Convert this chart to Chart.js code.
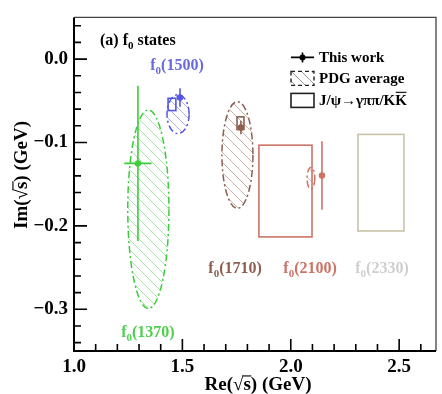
<!DOCTYPE html>
<html lang="en">
<head>
<meta charset="utf-8">
<title>f0 states: pole positions</title>
<script src="https://cdn.jsdelivr.net/npm/chart.js"></script>
<style>
  html, body { margin: 0; padding: 0; background: #fff; }
  #wrap { width: 442px; height: 394px; }
</style>
</head>
<body>
<div id="wrap"><canvas id="chart"></canvas></div>
<script>
// states, in plotting order
const stateNames = ['1370', '1500', '1710', '2100', '2330'];

// This work: pole position and errors (GeV)
const workRe    = [1.295, 1.489, 1.770, 2.144, null];
const workReErr = [0.063, 0.006, 0.004, 0.012, null];
const workIm    = [-0.125, -0.046, -0.082, -0.1395, null];
const workImErr = [0.093, 0.011, 0.008, 0.041, null];

// PDG average: ellipse centre and half widths (GeV)
const pdgRe     = [1.343, 1.480, 1.754, 2.093, null];
const pdgReHalf = [0.095, 0.051, 0.0715, 0.018, null];
const pdgIm     = [-0.180, -0.066, -0.115, -0.143, null];
const pdgImHalf = [0.119, 0.0234, 0.064, 0.013, null];

// J/psi -> gamma pi pi / K Kbar: allowed region (GeV)
const boxReLo = [null, 1.434, 1.752, 1.853, 2.310];
const boxReHi = [null, 1.470, 1.784, 2.098, 2.522];
const boxImHi = [null, -0.047, -0.0693, -0.1032, -0.0903];
const boxImLo = [null, -0.0617, -0.0845, -0.2132, -0.2061];

// axis tick labels
const xTicks = [1.0, 1.5, 2.0, 2.5];
const yTicks = [-0.3, -0.2, -0.1, 0.0];

const lineColors  = ['#3ccc3c', '#5656de', '#8c5f50', '#cc7466', '#c9c3aa'];
const hatchColors = ['#a6e6a6', '#aeaeee', '#c8b0a8', '#e2b4aa', '#e0ddd0'];
const textColors  = ['#4fcf4f', '#6a6ae0', '#8c5f50', '#cc7466', '#cfcfcf'];
// label anchor (centre, baseline) in axis units
const labelRe = [1.341, 1.475, 1.743, 2.089, 2.421];
const labelIm = [-0.3336, -0.0132, -0.2565, -0.2565, -0.2565];

const serif = '"Liberation Serif", "DejaVu Serif", serif';

function hatchPattern(ctx, color) {
  const c = document.createElement('canvas');
  c.width = 10; c.height = 10;
  const g = c.getContext('2d');
  g.strokeStyle = color;
  g.lineWidth = 1;
  g.beginPath();
  g.moveTo(-1, -1); g.lineTo(11, 11);
  g.moveTo(-1, 9); g.lineTo(1, 11);
  g.moveTo(9, -1); g.lineTo(11, 1);
  g.stroke();
  return ctx.createPattern(c, 'repeat');
}

// draws "f" + subscript "0" + rest, pieces: [text, size, dy]
function drawPieces(ctx, x, y, pieces, align) {
  let total = 0;
  pieces.forEach(p => { ctx.font = 'bold ' + p[1] + 'px ' + serif; total += ctx.measureText(p[0]).width; });
  let cx = align === 'center' ? x - total / 2 : x;
  ctx.textAlign = 'left';
  ctx.textBaseline = 'alphabetic';
  pieces.forEach(p => {
    ctx.font = 'bold ' + p[1] + 'px ' + serif;
    ctx.fillText(p[0], cx, y + (p[2] || 0));
    cx += ctx.measureText(p[0]).width;
  });
}

// text like "Re(√s) (GeV)" with the bar of the root over s
function drawRootTitle(ctx, x, y, pre, size) {
  ctx.font = 'bold ' + size + 'px ' + serif;
  ctx.textBaseline = 'alphabetic';
  ctx.textAlign = 'left';
  const full = pre + '(√s) (GeV)';
  const w = ctx.measureText(full).width;
  const x0 = x - w / 2;
  ctx.fillText(full, x0, y);
  const a = ctx.measureText(pre + '(√').width;
  const b = ctx.measureText(pre + '(√s').width;
  ctx.beginPath();
  ctx.lineWidth = 1.3;
  ctx.moveTo(x0 + a - 1, y - size * 0.74);
  ctx.lineTo(x0 + b + 0.5, y - size * 0.74);
  ctx.stroke();
}

const shapes = {
  id: 'shapes',
  beforeDatasetsDraw(chart) {
    const { ctx, scales: { x, y }, chartArea: area } = chart;
    ctx.save();
    ctx.beginPath();
    ctx.rect(area.left, area.top, area.width, area.height);
    ctx.clip();
    // PDG ellipses
    pdgRe.forEach((re, i) => {
      if (re === null) return;
      const cx = x.getPixelForValue(re), cy = y.getPixelForValue(pdgIm[i]);
      const rx = Math.abs(x.getPixelForValue(re + pdgReHalf[i]) - cx);
      const ry = Math.abs(y.getPixelForValue(pdgIm[i] + pdgImHalf[i]) - cy);
      ctx.beginPath();
      ctx.ellipse(cx, cy, rx, ry, 0, 0, 2 * Math.PI);
      ctx.fillStyle = hatchPattern(ctx, hatchColors[i]);
      ctx.fill();
      ctx.setLineDash([7, 3, 2, 3]);
      ctx.strokeStyle = lineColors[i];
      ctx.lineWidth = 1.5;
      ctx.stroke();
      ctx.setLineDash([]);
    });
    // J/psi boxes
    boxReLo.forEach((lo, i) => {
      if (lo === null) return;
      const x1 = x.getPixelForValue(lo), x2 = x.getPixelForValue(boxReHi[i]);
      const y1 = y.getPixelForValue(boxImHi[i]), y2 = y.getPixelForValue(boxImLo[i]);
      ctx.strokeStyle = lineColors[i];
      ctx.lineWidth = 1.6;
      ctx.strokeRect(x1, y1, x2 - x1, y2 - y1);
    });
    // error bars of this work
    workRe.forEach((re, i) => {
      if (re === null) return;
      ctx.strokeStyle = lineColors[i];
      ctx.lineWidth = 1.6;
      ctx.beginPath();
      ctx.moveTo(x.getPixelForValue(re - workReErr[i]), y.getPixelForValue(workIm[i]));
      ctx.lineTo(x.getPixelForValue(re + workReErr[i]), y.getPixelForValue(workIm[i]));
      ctx.moveTo(x.getPixelForValue(re), y.getPixelForValue(workIm[i] + workImErr[i]));
      ctx.lineTo(x.getPixelForValue(re), y.getPixelForValue(workIm[i] - workImErr[i]));
      ctx.stroke();
    });
    ctx.restore();
  },
  afterDraw(chart) {
    const { ctx, scales: { x, y }, chartArea: area } = chart;
    ctx.save();
    // frame
    ctx.strokeStyle = '#444';
    ctx.lineWidth = 1.3;
    ctx.beginPath();
    ctx.moveTo(area.left, area.top); ctx.lineTo(area.right, area.top); ctx.lineTo(area.right, area.bottom);
    ctx.stroke();
    ctx.strokeStyle = '#000';
    ctx.lineWidth = 2;
    ctx.beginPath();
    ctx.moveTo(area.left, area.top); ctx.lineTo(area.left, area.bottom); ctx.lineTo(area.right, area.bottom);
    ctx.stroke();
    // ticks, pointing inwards
    ctx.lineWidth = 1.6;
    ctx.beginPath();
    for (let k = 10; k <= 26; k++) {
      const px = x.getPixelForValue(k / 10);
      const len = k % 5 === 0 ? 12 : 7;
      ctx.moveTo(px, area.bottom); ctx.lineTo(px, area.bottom - len);
    }
    for (let k = -17; k <= 2; k++) {
      const py = y.getPixelForValue(k / 50);
      const len = k % 5 === 0 ? 13 : 7;
      ctx.moveTo(area.left, py); ctx.lineTo(area.left + len, py);
    }
    ctx.stroke();

    // state labels
    stateNames.forEach((name, i) => {
      ctx.fillStyle = textColors[i];
      drawPieces(ctx, x.getPixelForValue(labelRe[i]), y.getPixelForValue(labelIm[i]),
        [['f', 16], ['0', 11, 4], ['(' + name + ')', 16]], 'center');
    });

    // panel title
    ctx.fillStyle = '#000';
    drawPieces(ctx, area.left + 26, area.top + 28, [['(a) f', 16], ['0', 11, 4], [' states', 16]], 'left');

    // legend
    const lx = area.left + 217, lw = 23;
    ctx.strokeStyle = '#000';
    ctx.lineWidth = 1.6;
    ctx.beginPath();
    ctx.moveTo(lx, area.top + 40); ctx.lineTo(lx + lw, area.top + 40);
    ctx.moveTo(lx + lw / 2, area.top + 35); ctx.lineTo(lx + lw / 2, area.top + 45);
    ctx.stroke();
    ctx.fillStyle = '#000';
    ctx.beginPath();
    ctx.arc(lx + lw / 2, area.top + 40, 3, 0, 2 * Math.PI);
    ctx.fill();
    ctx.fillStyle = hatchPattern(ctx, '#999');
    ctx.fillRect(lx, area.top + 54, lw, 14);
    ctx.setLineDash([4, 3]);
    ctx.strokeStyle = '#222';
    ctx.lineWidth = 1.4;
    ctx.strokeRect(lx, area.top + 54, lw, 14);
    ctx.setLineDash([]);
    ctx.lineWidth = 1.6;
    ctx.strokeRect(lx, area.top + 76, lw, 14);
    ctx.fillStyle = '#000';
    ctx.font = 'bold 15px ' + serif;
    ctx.textAlign = 'left';
    ctx.textBaseline = 'alphabetic';
    const tx = lx + lw + 5;
    ctx.fillText('This work', tx, area.top + 45);
    ctx.fillText('PDG average', tx, area.top + 66);
    const jtext = 'J/ψ→γππ/KK';
    ctx.fillText(jtext, tx, area.top + 88);
    const w1 = ctx.measureText('J/ψ→γππ/K').width, w2 = ctx.measureText(jtext).width;
    ctx.beginPath();
    ctx.lineWidth = 1.3;
    ctx.moveTo(tx + w1 + 0.5, area.top + 75); ctx.lineTo(tx + w2 - 0.5, area.top + 75);
    ctx.stroke();

    // axis titles
    drawRootTitle(ctx, 258, 390, 'Re', 19);
    ctx.translate(27, 175);
    ctx.rotate(-Math.PI / 2);
    drawRootTitle(ctx, 0, 0, 'Im', 19);
    ctx.restore();
  }
};

const datasets = workRe.map((re, i) => ({
  label: 'f0(' + stateNames[i] + ')',
  data: re === null ? [] : [{ x: re, y: workIm[i] }],
  backgroundColor: lineColors[i],
  borderWidth: 0,
  pointRadius: 3.2
}));

const tickFont = { family: serif, weight: 'bold', size: 19 };

new Chart(document.getElementById('chart'), {
  type: 'scatter',
  data: { datasets },
  options: {
    responsive: true,
    maintainAspectRatio: false,
    animation: false,
    layout: { padding: { top: 9, right: 6, left: 0, bottom: 0 } },
    plugins: { legend: { display: false }, tooltip: { enabled: false } },
    scales: {
      x: {
        type: 'linear', min: 1.0, max: 2.67,
        grid: { display: false, drawTicks: false },
        border: { display: false },
        afterBuildTicks: s => { s.ticks = xTicks.map(v => ({ value: v })); },
        afterFit: s => { s.height = 43; },
        ticks: { color: '#000', font: tickFont, padding: 5, maxRotation: 0,
          callback: v => v.toFixed(1) }
      },
      y: {
        type: 'linear', min: -0.35, max: 0.05,
        grid: { display: false, drawTicks: false },
        border: { display: false },
        afterBuildTicks: s => { s.ticks = yTicks.map(v => ({ value: v })); },
        afterFit: s => { s.width = 74; },
        ticks: { color: '#000', font: tickFont, padding: 6,
          callback: v => (Math.abs(v) < 1e-9 ? '0.0' : v.toFixed(1).replace('-', '−')) }
      }
    }
  },
  plugins: [shapes]
});
</script>
</body>
</html>
